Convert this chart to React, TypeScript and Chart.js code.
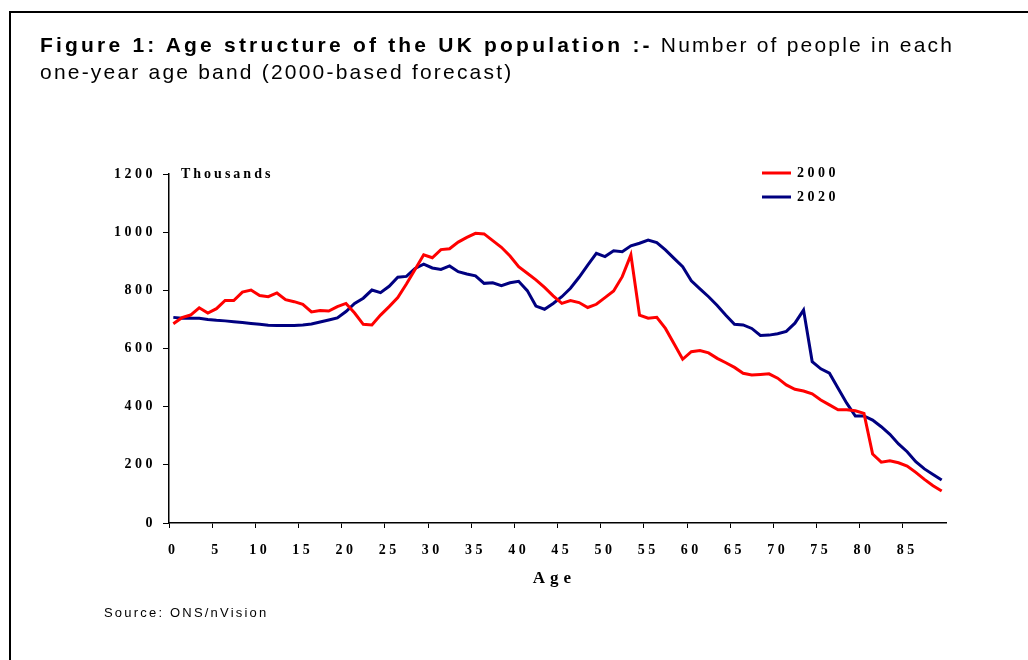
import React, { useEffect, useRef } from 'react';
import { Chart, registerables } from 'chart.js';

Chart.register(...registerables);

// Ages 0..89 (one-year age bands)
const ages: string[] = Array.from({ length: 90 }, (_, i) => String(i));
const xTickLabels: string[] = ['0', '5', '10', '15', '20', '25', '30', '35', '40', '45', '50', '55', '60', '65', '70', '75', '80', '85'];

// Thousands of people
const pop2000: number[] = [
  685, 706, 715, 740, 722, 737, 765, 765, 794, 801,
  782, 778, 791, 768, 761, 752, 726, 731, 729, 744,
  755, 722, 683, 681, 715, 744, 775, 822, 872, 922,
  912, 940, 943, 966, 982, 996, 994, 971, 948, 918,
  881, 859, 836, 810, 781, 755, 765, 758, 741, 752,
  775, 798, 847, 922, 715, 704, 707, 669, 616, 563,
  589, 593, 585, 566, 551, 535, 515, 509, 511, 513,
  498, 475, 460, 454, 444, 423, 406, 389, 389, 386,
  377, 237, 209, 214, 207, 196, 174, 150, 128, 110,
];
const pop2020: number[] = [
  707, 704, 704, 704, 700, 697, 695, 692, 689, 686,
  683, 680, 679, 679, 679, 681, 684, 691, 698, 705,
  727, 755, 773, 801, 792, 814, 845, 848, 875, 890,
  877, 872, 884, 864, 856, 850, 824, 826, 816, 826,
  831, 799, 746, 735, 755, 778, 807, 845, 887, 927,
  916, 936, 933, 953, 962, 973, 964, 939, 910, 881,
  833, 805, 778, 748, 714, 683, 681, 669, 645, 646,
  651, 659, 687, 732, 555, 530, 515, 463, 412, 368,
  368, 354, 331, 305, 272, 245, 211, 186, 167, 148,
];

const seriesNames: string[] = ['2000', '2020'];
const seriesColors: string[] = ['#FF0000', '#000080'];
const yTicks: number[] = [0, 200, 400, 600, 800, 1000, 1200];

const titleBold = 'Figure 1: Age structure of the UK population :-';
const titleRest = 'Number of people in each';
const titleLine2 = 'one-year age band (2000-based forecast)';
const unitLabel = 'Thousands';
const xAxisTitle = 'Age';
const sourceText = 'Source: ONS/nVision';

const SERIF = '"Liberation Serif", "Times New Roman", serif';
const SANS = '"Liberation Sans", Arial, sans-serif';

const decorPlugin = {
  id: 'decor',
  beforeLayout(chart: any) {
    chart.ctx.letterSpacing = '3.5px';
  },
  beforeDraw(chart: any) {
    chart.ctx.letterSpacing = '3.5px';
  },
  afterDraw(chart: any) {
    const { ctx, chartArea } = chart;
    ctx.save();
    ctx.letterSpacing = '3px';
    ctx.fillStyle = '#000';
    ctx.font = `bold 14px ${SERIF}`;
    ctx.textBaseline = 'middle';
    ctx.textAlign = 'left';
    ctx.fillText(unitLabel, chartArea.left + 12, chartArea.top);

    ctx.letterSpacing = '3.5px';
    const lx = chartArea.left + 593;
    seriesNames.forEach((name, i) => {
      const y = chartArea.top - 1 + i * 24;
      ctx.strokeStyle = seriesColors[i];
      ctx.lineWidth = 3;
      ctx.beginPath();
      ctx.moveTo(lx, y);
      ctx.lineTo(lx + 29, y);
      ctx.stroke();
      ctx.fillText(name, lx + 35, y);
    });

    ctx.font = `bold 17px ${SERIF}`;
    ctx.letterSpacing = '5px';
    ctx.textAlign = 'center';
    ctx.fillText(xAxisTitle, (chartArea.left + chartArea.right) / 2 - 3, chartArea.bottom + 56);
    ctx.restore();
  },
};

export default function App() {
  const canvasRef = useRef<HTMLCanvasElement | null>(null);

  useEffect(() => {
    if (!canvasRef.current) return;
    const chart = new Chart(canvasRef.current, {
      type: 'line',
      data: {
        labels: ages,
        datasets: [
          {
            label: seriesNames[0],
            data: pop2000,
            borderColor: seriesColors[0],
            backgroundColor: seriesColors[0],
            borderWidth: 3,
            pointRadius: 0,
            tension: 0,
            fill: false,
          },
          {
            label: seriesNames[1],
            data: pop2020,
            borderColor: seriesColors[1],
            backgroundColor: seriesColors[1],
            borderWidth: 3,
            pointRadius: 0,
            tension: 0,
            fill: false,
          },
        ],
      },
      options: {
        responsive: false,
        animation: false,
        devicePixelRatio: 1,
        layout: { padding: { left: 109, right: 82, top: 174, bottom: 77 } },
        plugins: {
          legend: { display: false },
          tooltip: { enabled: false },
          title: { display: false },
        },
        scales: {
          x: {
            type: 'category',
            offset: true,
            afterFit: (scale: any) => {
              scale.height = 60;
            },
            grid: {
              offset: true,
              drawOnChartArea: false,
              drawTicks: true,
              tickLength: 5,
              color: (ctx: any) => (ctx.index % 5 === 0 ? '#000' : 'rgba(0,0,0,0)'),
              lineWidth: 1,
            },
            border: { display: true, color: '#000', width: 1.5 },
            ticks: {
              autoSkip: false,
              maxRotation: 0,
              minRotation: 0,
              padding: 14,
              color: '#000',
              font: { family: SERIF, size: 14, weight: 'bold' },
              callback: (_v: any, i: number) => (i % 5 === 0 ? xTickLabels[i / 5] : ''),
            },
          },
          y: {
            min: 0,
            max: 1200,
            afterFit: (scale: any) => {
              scale.width = 60;
            },
            afterBuildTicks: (scale: any) => {
              scale.ticks = yTicks.map((v) => ({ value: v }));
            },
            grid: {
              drawOnChartArea: false,
              drawTicks: true,
              tickLength: 6,
              color: '#000',
            },
            border: { display: true, color: '#000', width: 1.5 },
            ticks: {
              padding: 7,
              color: '#000',
              font: { family: SERIF, size: 14, weight: 'bold' },
              callback: (v: any) => String(v),
            },
          },
        },
      },
      plugins: [decorPlugin],
    });
    return () => chart.destroy();
  }, []);

  return (
    <div style={{ position: 'absolute', left: 0, top: 0, width: 1028, height: 660, overflow: 'hidden', background: '#fff' }}>
      <div
        style={{
          position: 'absolute',
          left: 9,
          top: 11,
          width: 1060,
          height: 700,
          borderTop: '2px solid #000',
          borderLeft: '2px solid #000',
        }}
      />
      <canvas ref={canvasRef} width={1028} height={660} style={{ position: 'absolute', left: 0, top: 0, width: 1028, height: 660 }} />
      <div
        style={{
          position: 'absolute',
          left: 40,
          top: 31,
          fontFamily: SANS,
          fontSize: 21,
          lineHeight: '27px',
          letterSpacing: '2.2px',
          color: '#000',
          whiteSpace: 'nowrap',
        }}
      >
        <div>
          <span style={{ fontWeight: 'bold', letterSpacing: '3.2px' }}>{titleBold}</span>
          <span>{' ' + titleRest}</span>
        </div>
        <div>{titleLine2}</div>
      </div>
      <div
        style={{
          position: 'absolute',
          left: 104,
          top: 605,
          fontFamily: SANS,
          fontSize: 13,
          lineHeight: '16px',
          letterSpacing: '2.2px',
          color: '#000',
          whiteSpace: 'nowrap',
        }}
      >
        {sourceText}
      </div>
    </div>
  );
}
